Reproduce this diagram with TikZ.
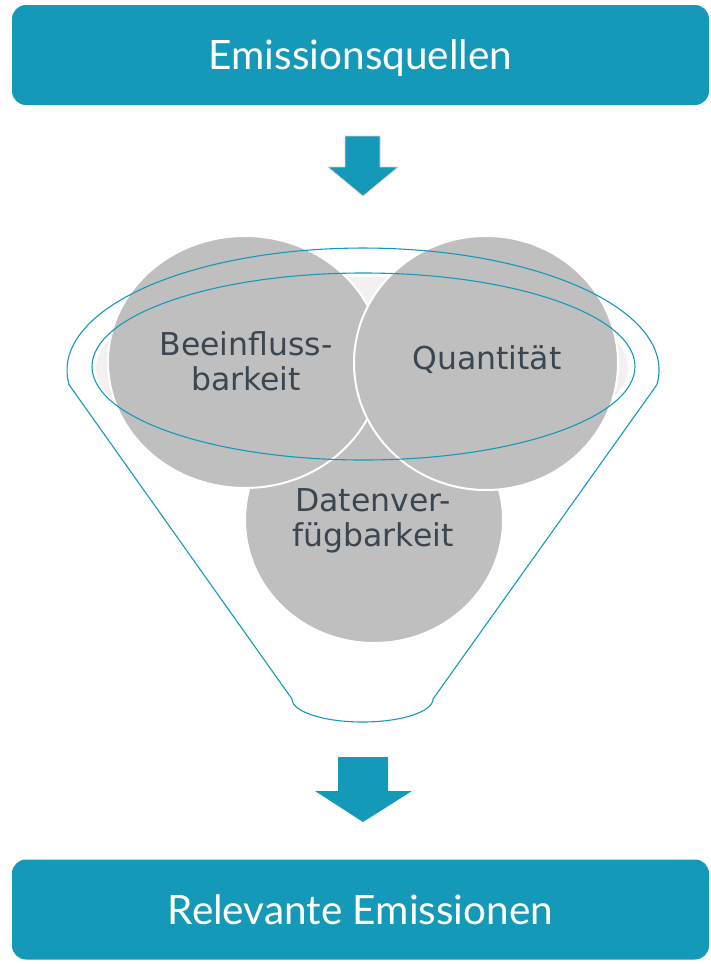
\documentclass[tikz,border=0pt]{standalone}
\usepackage{fontspec}
\setmainfont{DejaVu Sans}
\newfontfamily\boxfont{Lato}
\usetikzlibrary{shapes.geometric}
\definecolor{tealbox}{HTML}{1599B9}
\definecolor{blobgray}{HTML}{BFBFBF}
\definecolor{holepink}{HTML}{F4F0F2}
\definecolor{blobtextgray}{HTML}{3B4650}
\definecolor{arrowedge}{HTML}{E6C8D2}

\tikzset{
 titlebox/.style={fill=tealbox, rounded corners=14pt, minimum width=697pt, minimum height=100pt,
   inner sep=0pt, text height=29pt, text depth=0pt, text=white, font=\boxfont\fontsize{40.5}{46}\selectfont},
 blob/.style={ellipse, fill=blobgray, draw=white, line width=2pt, inner sep=0pt},
 blobtext/.style={text=blobtextgray, align=center, font=\fontsize{31.5}{35}\selectfont},
 funnelline/.style={draw=tealbox, line width=1.1pt}
}

\begin{document}
\begin{tikzpicture}[x=1pt,y=-1pt]
 \useasboundingbox (0,0) rectangle (710,964);
 \node[titlebox] (quellen) at (360.5,55) {Emissionsquellen};
 \node[titlebox] (relevant) at (360.5,909.5) {Relevante Emissionen};
 \filldraw[fill=tealbox, draw=arrowedge, line width=0.6pt] (345,136) -- (380,136) -- (380,167) -- (398,167) -- (363,196) -- (328,167) -- (345,167) -- cycle;
 \fill[tealbox] (338,757) -- (388,757) -- (388,791) -- (412,791) -- (363,822) -- (315,791) -- (338,791) -- cycle;
 % funnel opening
 \fill[holepink] (362,368) ellipse [x radius=266, y radius=91];
 \node[blob, minimum width=258, minimum height=246] (daten) at (374,520) {};
 \node[blob, minimum width=274, minimum height=252] (beeinfluss) at (245,362) {};
 \node[blob, minimum width=264, minimum height=254] (quantitaet) at (486,363) {};
 \node[blobtext] at (246,361.5) {Beeinfluss-\\barkeit};
 \node[blobtext, anchor=base] at (487,369) {Quantität};
 \node[blobtext] at (373,521) {Datenver-\\fügbarkeit};
 \draw[funnelline] (363.5,366.5) ellipse [x radius=271.5, y radius=93.5];
 \draw[funnelline] (69.2,384.9) -- (292,699) arc[start angle=180, end angle=0, x radius=70.5, y radius=23]
   -- (656.8,384.9) arc[start angle=7, end angle=-187, x radius=296, y radius=122] -- cycle;
\end{tikzpicture}
\end{document}
